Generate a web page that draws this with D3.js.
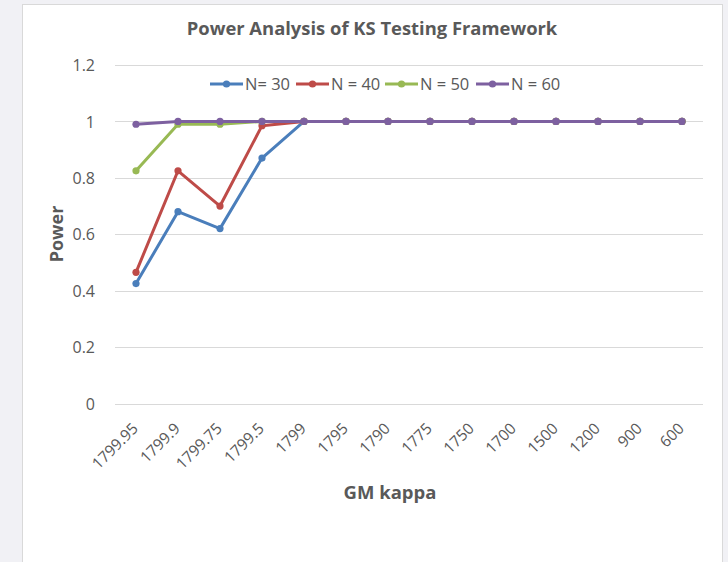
<!DOCTYPE html>
<html>
<head>
<meta charset="utf-8">
<script src="https://cdn.jsdelivr.net/npm/d3@7/dist/d3.min.js"></script>
<style>
  html, body { margin: 0; padding: 0; background: #f1f1f5; }
  #chart { position: absolute; left: 0; top: 0; }
  text { font-family: "Open Sans", "Noto Sans", sans-serif; }
</style>
</head>
<body>
<div id="chart"></div>
<script>
// 類別與數列
const categories = ['1799.95', '1799.9', '1799.75', '1799.5', '1799', '1795', '1790', '1775', '1750', '1700', '1500', '1200', '900', '600'];
const seriesNames = ['N= 30', 'N = 40', 'N = 50', 'N = 60'];
const n30 = [0.425, 0.68, 0.62, 0.87, 1, 1, 1, 1, 1, 1, 1, 1, 1, 1];
const n40 = [0.465, 0.825, 0.70, 0.985, 1, 1, 1, 1, 1, 1, 1, 1, 1, 1];
const n50 = [0.825, 0.99, 0.99, 1, 1, 1, 1, 1, 1, 1, 1, 1, 1, 1];
const n60 = [0.99, 1, 1, 1, 1, 1, 1, 1, 1, 1, 1, 1, 1, 1];
const yTicks = [0, 0.2, 0.4, 0.6, 0.8, 1, 1.2];
const colors = ['#4a7ebb', '#be4b48', '#98b954', '#7d60a0'];

const series = [n30, n40, n50, n60].map((vals, i) => ({ name: seriesNames[i], values: vals, color: colors[i] }));

const W = 728, H = 562;
const svg = d3.select('#chart').append('svg').attr('width', W).attr('height', H);

// 圖表外框
svg.append('rect').attr('x', 22.5).attr('y', 4.5).attr('width', 700).attr('height', 570)
  .attr('fill', '#fff').attr('stroke', '#d9d9d9');

const plot = { left: 115, right: 703, top: 65, bottom: 403.5 };

const x = d3.scaleBand().domain(categories).range([plot.left, plot.right]);
const y = d3.scaleLinear().domain([0, 1.2]).range([plot.bottom, plot.top]);

// 格線
svg.append('g').selectAll('line').data(yTicks).enter().append('line')
  .attr('x1', plot.left).attr('x2', plot.right)
  .attr('y1', d => Math.round(y(d)) + 0.5).attr('y2', d => Math.round(y(d)) + 0.5)
  .attr('stroke', '#d9d9d9').attr('stroke-width', 1);

// Y 軸刻度
const yAxis = svg.append('g').attr('transform', `translate(${plot.left - 17},0)`)
  .call(d3.axisLeft(y).tickValues(yTicks).tickSize(0).tickFormat(d => d3.format('')(+d.toFixed(1))));
yAxis.select('.domain').remove();
yAxis.selectAll('text').attr('fill', '#595959').style('font-size', '16px').attr('dy', '0.35em');

// X 軸刻度（斜 45 度）
const xAxis = svg.append('g').attr('transform', `translate(0,${plot.bottom})`)
  .call(d3.axisBottom(x).tickSize(0));
xAxis.select('.domain').remove();
xAxis.selectAll('text')
  .attr('fill', '#595959').style('font-size', '15.5px')
  .attr('text-anchor', 'end')
  .attr('dy', null).attr('y', 0)
  .attr('transform', 'translate(3,26) rotate(-45)');

// 線條與標記
const line = d3.line().x((d, i) => x(categories[i]) + x.bandwidth() / 2).y(d => y(d));
const g = svg.append('g');
series.forEach(s => {
  g.append('path').datum(s.values).attr('d', line)
    .attr('fill', 'none').attr('stroke', s.color).attr('stroke-width', 3)
    .attr('stroke-linejoin', 'round').attr('stroke-linecap', 'round');
  g.selectAll(null).data(s.values).enter().append('circle')
    .attr('cx', (d, i) => x(categories[i]) + x.bandwidth() / 2)
    .attr('cy', d => y(d)).attr('r', 3.6).attr('fill', s.color);
});

// 圖例
const legendX = [210, 296, 385, 476];
const legend = svg.append('g').attr('transform', 'translate(0,84)');
series.forEach((s, i) => {
  const lg = legend.append('g').attr('transform', `translate(${legendX[i]},0)`);
  lg.append('line').attr('x1', 0).attr('x2', 33).attr('y1', 0).attr('y2', 0)
    .attr('stroke', s.color).attr('stroke-width', 3);
  lg.append('circle').attr('cx', 16.5).attr('cy', 0).attr('r', 3.6).attr('fill', s.color);
  lg.append('text').attr('x', 35).attr('y', 0).attr('dy', '0.35em')
    .attr('fill', '#595959').style('font-size', '16.5px').text(s.name);
});

// 標題
svg.append('text').attr('x', 372).attr('y', 29).attr('dy', '0.35em').attr('text-anchor', 'middle')
  .attr('fill', '#595959').style('font-size', '18.4px').style('font-weight', 'bold')
  .text('Power Analysis of KS Testing Framework');

// 軸標題
svg.append('text').attr('transform', 'translate(57,234) rotate(-90)').attr('dy', '0.35em')
  .attr('text-anchor', 'middle').attr('fill', '#595959')
  .style('font-size', '18px').style('font-weight', 'bold').text('Power');

svg.append('text').attr('x', 390).attr('y', 493).attr('dy', '0.35em').attr('text-anchor', 'middle')
  .attr('fill', '#595959').style('font-size', '18.5px').style('font-weight', 'bold').text('GM kappa');
</script>
</body>
</html>
